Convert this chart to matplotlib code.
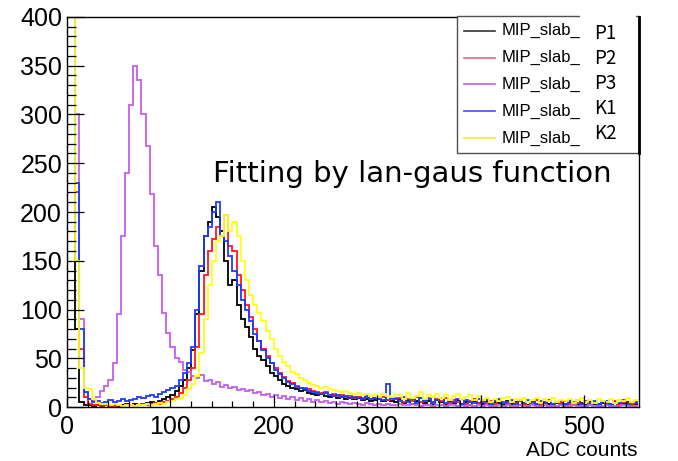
import numpy as np
import matplotlib
matplotlib.use("Agg")
import matplotlib.pyplot as plt
from matplotlib.lines import Line2D
from matplotlib.patches import Rectangle
from matplotlib.ticker import MultipleLocator

# ---------------- data (4-ADC-count bins starting at 0) ----------------
BIN_W = 4
SERIES = ["P1", "P2", "P3", "K1", "K2"]
LEGEND_PREFIX = "MIP_slab_"

p1 = [2000, 1200, 80, 5, 2, 2, 1, 2, 1, 2,
      1, 2, 1, 2, 3, 2, 3, 2, 3, 4,
      5, 4, 6, 8, 10, 12, 16, 22, 28, 40,
      58, 95, 140, 175, 190, 205, 195, 180, 150, 125,
      130, 105, 90, 82, 72, 60, 52, 48, 42, 35,
      32, 28, 24, 22, 20, 18, 16, 17, 14, 13,
      12, 13, 11, 10, 11, 9, 10, 8, 9, 8,
      9, 7, 8, 6, 7, 8, 6, 7, 6, 5,
      8, 4, 7, 3, 6, 9, 4, 6, 3, 7,
      5, 2, 6, 4, 7, 3, 5, 2, 6, 4,
      3, 6, 2, 5, 4, 2, 6, 3, 5, 2,
      4, 2, 5, 3, 2, 5, 3, 2, 4, 3,
      2, 5, 3, 2, 4, 2, 5, 3, 2, 4,
      3, 2, 4, 2, 3, 5, 2, 3]

p2 = [2000, 1500, 220, 60, 10, 3, 2, 2, 1, 2,
      1, 1, 2, 1, 2, 2, 1, 2, 3, 2,
      3, 4, 3, 5, 6, 8, 10, 14, 20, 28,
      40, 62, 95, 135, 160, 172, 185, 175, 197, 165,
      160, 135, 120, 105, 92, 80, 68, 60, 52, 45,
      40, 35, 31, 27, 25, 22, 20, 19, 18, 16,
      15, 14, 15, 12, 13, 11, 12, 10, 11, 9,
      10, 9, 11, 8, 9, 8, 10, 7, 8, 9,
      9, 5, 8, 6, 10, 5, 7, 9, 4, 8,
      6, 9, 4, 7, 5, 8, 3, 6, 8, 4,
      7, 4, 6, 3, 7, 5, 3, 6, 4, 7,
      3, 6, 4, 7, 3, 5, 6, 3, 5, 4,
      6, 3, 5, 4, 2, 6, 4, 5, 3, 6,
      4, 3, 6, 3, 5, 4, 3, 5]

p3 = [2000, 1500, 300, 90, 15, 8, 6, 10, 16, 22,
      28, 45, 95, 175, 240, 310, 350, 335, 300, 268,
      218, 165, 135, 96, 76, 62, 50, 46, 38, 36,
      32, 30, 33, 27, 28, 24, 26, 21, 23, 19,
      21, 17, 18, 16, 17, 14, 15, 12, 13, 10,
      12, 9, 11, 8, 10, 7, 9, 6, 8, 5,
      7, 5, 6, 4, 5, 3, 5, 4, 3, 4,
      3, 2, 4, 3, 2, 3, 2, 3, 2, 2,
      3, 2, 2, 3, 2, 1, 2, 2, 1, 2,
      2, 1, 2, 2, 1, 2, 1, 2, 1, 2,
      1, 2, 1, 1, 2, 1, 2, 1, 1, 2,
      1, 1, 2, 1, 1, 2, 1, 1, 1, 2,
      1, 1, 2, 1, 1, 1, 2, 1, 1, 1,
      2, 1, 1, 1, 2, 1, 1, 1]

k1 = [2000, 1500, 230, 80, 15, 8, 5, 6, 4, 5,
      7, 5, 6, 8, 6, 7, 8, 10, 9, 11,
      12, 10, 13, 15, 17, 20, 22, 28, 35, 45,
      62, 100, 145, 175, 185, 200, 210, 175, 170, 155,
      140, 125, 110, 100, 88, 75, 68, 58, 50, 45,
      38, 34, 30, 26, 24, 21, 19, 18, 16, 15,
      14, 13, 14, 12, 11, 12, 10, 11, 9, 10,
      9, 8, 10, 8, 9, 8, 7, 24, 9, 8,
      6, 10, 5, 8, 4, 9, 6, 8, 5, 7,
      9, 4, 7, 5, 8, 3, 7, 5, 4, 8,
      5, 7, 3, 6, 8, 4, 5, 7, 3, 6,
      4, 7, 5, 3, 6, 4, 7, 3, 5, 6,
      3, 6, 4, 7, 3, 5, 4, 6, 3, 5,
      6, 3, 5, 4, 7, 3, 5, 4]

k2 = [2000, 1500, 150, 40, 20, 18, 8, 4, 3, 3,
      2, 3, 2, 1, 2, 2, 1, 2, 2, 3,
      2, 3, 4, 3, 5, 6, 8, 9, 12, 18,
      24, 32, 55, 90, 125, 150, 170, 175, 197, 180,
      190, 175, 150, 130, 115, 105, 96, 88, 78, 70,
      60, 52, 46, 42, 36, 34, 30, 28, 25, 23,
      22, 20, 21, 18, 17, 16, 15, 16, 14, 13,
      14, 12, 13, 11, 12, 10, 13, 11, 10, 12,
      12, 8, 14, 9, 11, 15, 8, 12, 10, 13,
      9, 12, 7, 11, 13, 8, 10, 12, 7, 11,
      7, 9, 5, 8, 6, 9, 10, 5, 8, 7,
      9, 5, 7, 9, 4, 8, 6, 9, 5, 7,
      6, 8, 4, 7, 9, 5, 7, 4, 8, 6,
      5, 8, 4, 7, 6, 9, 5, 7]

DATA = [p1, p2, p3, k1, k2]
COLORS = ["#000000", "#ff1a1a", "#c55ef0", "#1f3cff", "#ffff1a"]
LEG_COLORS = ["#333333", "#ff5c80", "#c060f0", "#4a4aff", "#f0f020"]

# ---------------- figure ----------------
W, H = 678, 461
fig = plt.figure(figsize=(W / 100, H / 100), dpi=100)
fig.patch.set_facecolor("white")


def fx(px):
    return px / W


def fy(py):
    return 1 - py / H


ax = fig.add_axes([fx(67), fy(407), fx(639) - fx(67), fy(17) - fy(407)])

for vals, c in zip(DATA, COLORS):
    edges = np.arange(len(vals) + 1) * BIN_W
    ax.stairs(vals, edges, color=c, lw=1.3, baseline=None)

ax.set_xlim(0, 553)
ax.set_ylim(0, 400)
ax.xaxis.set_major_locator(MultipleLocator(100))
ax.xaxis.set_minor_locator(MultipleLocator(20))
ax.yaxis.set_major_locator(MultipleLocator(50))
ax.yaxis.set_minor_locator(MultipleLocator(10))
ax.tick_params(axis="x", which="major", direction="in", length=8.4, width=0.9, pad=6.0)
ax.tick_params(axis="x", which="minor", direction="in", length=4.2, width=0.9)
ax.tick_params(axis="y", which="major", direction="in", length=12.3, width=0.9, pad=3.6)
ax.tick_params(axis="y", which="minor", direction="in", length=6.2, width=0.9)
for lab in ax.get_xticklabels() + ax.get_yticklabels():
    lab.set_fontfamily("Liberation Sans")
    lab.set_fontsize(18)
for sp in ax.spines.values():
    sp.set_linewidth(1.0)
    sp.set_color("black")

# axis title
fig.text(fx(638), fy(456), "ADC counts", ha="right", va="baseline",
         family="Liberation Sans", fontsize=15)

# annotation
fig.text(fx(213), fy(182), "Fitting by lan-gaus function", ha="left", va="baseline",
         family=["DejaVu Sans"], fontsize=21)

# ---------------- legend ----------------
fig.add_artist(Rectangle((fx(457), fy(152.7)), fx(639) - fx(457), fy(15.7) - fy(152.7),
                         transform=fig.transFigure, facecolor="white",
                         edgecolor="#505050", lw=1.0, zorder=5))
for i, c in enumerate(LEG_COLORS):
    y = 30.7 + i * 26.9
    fig.add_artist(Line2D([fx(464), fx(495)], [fy(y), fy(y)], color=c, lw=1.2,
                          transform=fig.transFigure, zorder=6))
    fig.text(fx(502), fy(y), LEGEND_PREFIX, ha="left", va="center",
             family="Liberation Sans", fontsize=12, zorder=6)

# pasted label box covering the right part of the legend
fig.add_artist(Rectangle((fx(580), fy(151)), fx(636) - fx(580), fy(12) - fy(151),
                         transform=fig.transFigure, facecolor="white",
                         edgecolor="none", zorder=7))
fig.add_artist(Line2D([fx(638.5), fx(638.5)], [fy(17), fy(152.7)], color="black", lw=2.0,
                      transform=fig.transFigure, zorder=8))
for i, name in enumerate(SERIES):
    fig.text(fx(594), fy(33.3 + i * 25.0), name, ha="left", va="center",
             family=["Noto Sans CJK JP", "DejaVu Sans"], fontsize=13.5, zorder=9)

fig.savefig("out.png", dpi=100, facecolor="white")
